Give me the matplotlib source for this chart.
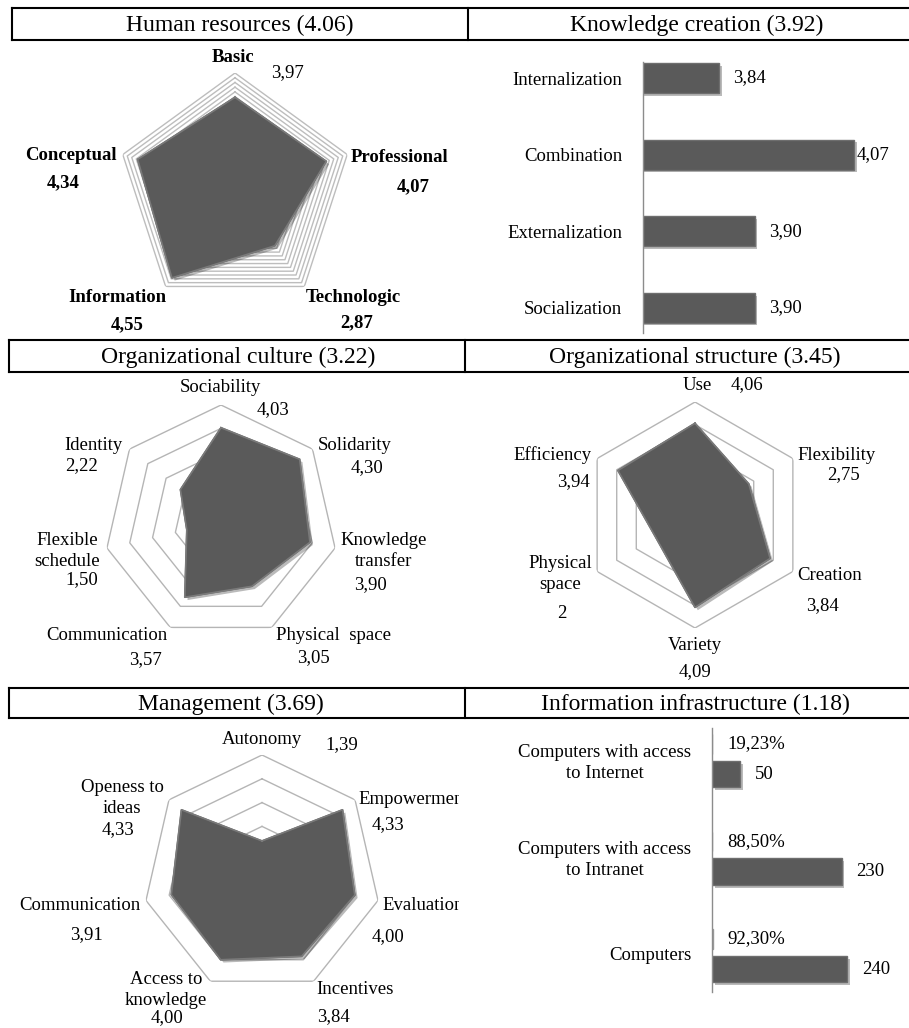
import numpy as np
import matplotlib
matplotlib.use('Agg')
import matplotlib.pyplot as plt
import matplotlib.patheffects as pe
from matplotlib.transforms import Bbox, TransformedBbox

plt.rcParams['font.family'] = ['Liberation Serif', 'DejaVu Serif']

W, H = 909, 1028

#------------------------ data ------------------------
titles = ['Human resources (4.06)', 'Knowledge creation (3.92)',
          'Organizational culture (3.22)', 'Organizational structure (3.45)',
          'Management (3.69)', 'Information infrastructure (1.18)']

hr_labels = ['Basic', 'Professional', 'Technologic', 'Information', 'Conceptual']
hr_values = [3.97, 4.07, 2.87, 4.55, 4.34]

kc_labels = ['Internalization', 'Combination', 'Externalization', 'Socialization']
kc_values = [3.84, 4.07, 3.90, 3.90]

oc_labels = ['Sociability', 'Solidarity', 'Knowledge\ntransfer', 'Physical  space',
             'Communication', 'Flexible\nschedule', 'Identity']
oc_values = [4.03, 4.30, 3.90, 3.05, 3.57, 1.50, 2.22]

os_labels = ['Use', 'Flexibility', 'Creation', 'Variety', 'Physical\nspace', 'Efficiency']
os_values = [4.06, 2.75, 3.84, 4.09, 2, 3.94]

mg_labels = ['Autonomy', 'Empowerment', 'Evaluation', 'Incentives',
             'Access to\nknowledge', 'Communication', 'Openess to\nideas']
mg_values = [1.39, 4.33, 4.00, 3.84, 4.00, 3.91, 4.33]

ii_labels = ['Computers with access\nto Internet', 'Computers with access\nto Intranet', 'Computers']
ii_counts = [50, 230, 240]
ii_pct = [19.23, 88.50, 92.30]

#------------------------ layout (pixels) ------------------------
hr_name_xy = [(233, 58, 'center'), (400, 157, 'center'), (353, 297, 'center'), (117, 297, 'center'), (71, 156, 'center')]
hr_val_xy = [(287, 73), (413, 187), (357, 323), (127, 325), (63, 183)]

oc_name_xy = [(220, 388, 'center'), (355, 446, 'center'), (384, 551, 'center'), (333, 635, 'center'),
              (107, 635, 'center'), (67, 551, 'center'), (93, 446, 'center')]
oc_val_xy = [(273, 410), (367, 468), (370, 585), (313, 658), (145, 660), (82, 580), (82, 466)]

os_name_xy = [(697, 385, 'center'), (837, 455, 'center'), (830, 575, 'center'), (695, 645, 'center'),
              (560, 574, 'center'), (553, 455, 'center')]
os_val_xy = [(747, 385), (843, 475), (822, 606), (695, 672), (562, 613), (573, 482)]

mg_name_xy = [(262, 740, 'center'), (358, 800, 'left'), (382, 905, 'left'), (355, 990, 'center'),
              (166, 990, 'center'), (80, 905, 'center'), (122, 798, 'center')]
mg_val_xy = [(342, 745), (388, 825), (388, 937), (333, 1017), (167, 1018), (86, 935), (118, 830)]

FILL = '#5a5a5a'
LBL = 13.5
TTL = 17


def fmt(v):
    if isinstance(v, int):
        return str(v)
    return ('%.2f' % v).replace('.', ',')


def px_rect(x0, y0, x1, y1):
    return [x0 / W, 1 - y1 / H, (x1 - x0) / W, (y1 - y0) / H]


fig = plt.figure(figsize=(W / 100, H / 100), dpi=100)

# overlay for table frame, titles and radar labels
ov = fig.add_axes([0, 0, 1, 1])
ov.set_xlim(0, W)
ov.set_ylim(H, 0)
ov.axis('off')

lw = 1.5
for top, bot, left, mid in [(8, 40, 12, 468), (340, 372, 9, 465), (688, 718, 9, 465)]:
    ov.plot([left, W], [top, top], color='black', lw=lw)
    ov.plot([left, W], [bot, bot], color='black', lw=lw)
    ov.plot([left, left], [top, bot], color='black', lw=lw)
    ov.plot([mid, mid], [top, bot], color='black', lw=lw)

title_xy = [(240, 25), (697, 25), (238, 357), (695, 357), (231, 704), (695, 704)]
for t, (x, y) in zip(titles, title_xy):
    ov.text(x, y, t, ha='center', va='center', fontsize=TTL)


def radar(cx, cy, R, values, rings, ring_color='#b5b5b5'):
    ax = fig.add_axes(px_rect(cx - R, cy - R, cx + R, cy + R), projection='polar')
    n = len(values)
    ang = np.linspace(0, 2 * np.pi, n, endpoint=False)
    ang_c = np.append(ang, ang[0])
    ax.set_theta_zero_location('N')
    ax.set_theta_direction(-1)
    ax.set_ylim(0, 5)
    ax.grid(False)
    ax.set_xticks([])
    ax.set_yticks([])
    ax.spines['polar'].set_visible(False)
    ax.patch.set_visible(False)
    for r in rings:
        ax.plot(ang_c, [r] * (n + 1), color=ring_color, lw=1, zorder=1)
    vals = np.append(values, values[0])
    ax.fill(ang_c, vals, color=FILL, zorder=3,
            path_effects=[pe.SimplePatchShadow(offset=(2, -2), alpha=0.3), pe.Normal()])
    ax.plot(ang_c, vals, color='#7a7a7a', lw=1.2, zorder=4)
    return ax


def radar_labels(labels, values, name_xy, val_xy, bold_names=False, bold_vals=None, clip=None):
    for i, (lab, v) in enumerate(zip(labels, values)):
        x, y, ha = name_xy[i]
        t = ov.text(x, y, lab, ha=ha, va='center', fontsize=LBL, linespacing=1.3,
                    fontweight='bold' if bold_names else 'normal')
        if clip is not None:
            t.set_clip_on(True)
            t.set_clip_box(clip)
        vx, vy = val_xy[i]
        bw = 'bold' if (bold_vals is not None and bold_vals[i]) else 'normal'
        ov.text(vx, vy, fmt(v), ha='center', va='center', fontsize=LBL, fontweight=bw)


#------------------------ Human resources ------------------------
radar(235, 191, 118, hr_values, np.arange(0.2, 5.01, 0.2), ring_color='#bdbdbd')
radar_labels(hr_labels, hr_values, hr_name_xy, hr_val_xy, bold_names=True,
             bold_vals=[False, True, True, True, True])

#------------------------ Organizational culture ------------------------
radar(221, 522, 117, oc_values, [1, 2, 3, 4, 5])
radar_labels(oc_labels, oc_values, oc_name_xy, oc_val_xy)

#------------------------ Organizational structure ------------------------
radar(695, 515, 113, os_values, [1, 2, 3, 4, 5])
radar_labels(os_labels, os_values, os_name_xy, os_val_xy)

#------------------------ Management ------------------------
radar(262, 874, 119, mg_values, [1, 2, 3, 4, 5])
left_clip = TransformedBbox(Bbox.from_extents(0, 0, 459 / W, 1), fig.transFigure)
radar_labels(mg_labels, mg_values, mg_name_xy, mg_val_xy, clip=left_clip)


def bar_style(ax):
    for s in ['top', 'right', 'bottom']:
        ax.spines[s].set_visible(False)
    ax.spines['left'].set_color('#8c8c8c')
    ax.spines['left'].set_linewidth(1)
    ax.set_xticks([])
    ax.tick_params(axis='y', length=0, labelsize=LBL, pad=15)
    ax.patch.set_visible(False)


#------------------------ Knowledge creation ------------------------
ax = fig.add_axes(px_rect(643, 62, 872, 333))
y = np.arange(len(kc_values))
ax.barh(y, kc_values, height=0.39, color=FILL, edgecolor='#6e6e6e', lw=1,
        path_effects=[pe.SimplePatchShadow(offset=(2, -2), alpha=0.3), pe.Normal()])
ax.set_xlim(3.71, 4.1)
ax.set_ylim(3.33, -0.21)
ax.set_yticks(y, kc_labels)
bar_style(ax)
for yi, v in zip(y, kc_values):
    off = 2 if v == max(kc_values) else 14
    ax.annotate(fmt(v), xy=(v, yi), xytext=(off, 0), textcoords='offset pixels',
                ha='left', va='center', fontsize=LBL, annotation_clip=False)

#------------------------ Information infrastructure ------------------------
ax = fig.add_axes(px_rect(712, 728, 881, 992))
y = np.arange(len(ii_counts))
off = 0.155
ax.barh(y + off, ii_counts, height=0.27, color=FILL, edgecolor='#6e6e6e', lw=1,
        path_effects=[pe.SimplePatchShadow(offset=(2, -2), alpha=0.3), pe.Normal()])
ax.barh(y - off, np.array(ii_pct) / 100, height=0.2, color='#9a9a9a', edgecolor='#9a9a9a', lw=1)
ax.set_xlim(0, 300)
ax.set_ylim(2.39, -0.318)
ax.set_yticks(y, ii_labels, multialignment='center', linespacing=1.3)
bar_style(ax)
ax.tick_params(axis='y', pad=15)
for yi, c, p in zip(y, ii_counts, ii_pct):
    ax.annotate(str(c), xy=(c, yi + off), xytext=(15, 0), textcoords='offset pixels',
                ha='left', va='center', fontsize=LBL, annotation_clip=False)
    ax.annotate(fmt(p) + '%', xy=(0, yi - off), xytext=(15, 0), textcoords='offset pixels',
                ha='left', va='center', fontsize=LBL, annotation_clip=False)

fig.savefig('out.png', dpi=100)
